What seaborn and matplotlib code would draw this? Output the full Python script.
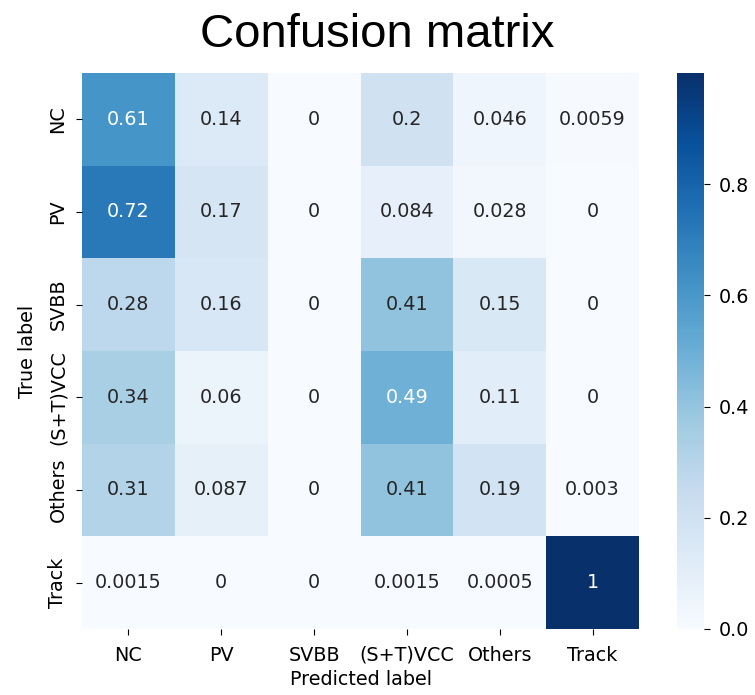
import numpy as np
import pandas as pd
import matplotlib
matplotlib.use("Agg")
import matplotlib.pyplot as plt
import seaborn as sns

# Class names (true rows, predicted columns)
classes = ["NC", "PV", "SVBB", "(S+T)VCC", "Others", "Track"]

# Normalised confusion matrix rows
row_nc = [0.61, 0.14, 0, 0.2, 0.046, 0.0059]
row_pv = [0.72, 0.17, 0, 0.084, 0.028, 0]
row_svbb = [0.28, 0.16, 0, 0.41, 0.15, 0]
row_vcc = [0.34, 0.06, 0, 0.49, 0.11, 0]
row_others = [0.31, 0.087, 0, 0.41, 0.19, 0.003]
row_track = [0.0015, 0, 0, 0.0015, 0.0005, 1]

cm = pd.DataFrame(
    [row_nc, row_pv, row_svbb, row_vcc, row_others, row_track],
    index=classes, columns=classes,
)

fig = plt.figure(figsize=(7.55, 6.95), dpi=100)
ax = fig.add_axes([0.1086, 0.0950, 0.7378, 0.8000])
cax = fig.add_axes([0.8967, 0.0950, 0.0358, 0.8000])

sns.heatmap(
    cm, ax=ax, cbar_ax=cax, cmap="Blues", annot=True,
    annot_kws={"fontsize": 13.8},
)

ax.set_xlabel("Predicted label", fontsize=13.8, labelpad=4)
ax.set_ylabel("True label", fontsize=13.8, labelpad=8)
ax.tick_params(axis="both", labelsize=13.8, length=4.5)
ax.tick_params(axis="x", pad=7.5)
ax.tick_params(axis="y", pad=6)
plt.setp(ax.get_xticklabels(), rotation=0)
plt.setp(ax.get_yticklabels(), rotation=90, va="center")

cax.tick_params(labelsize=13.8, length=4.5, pad=6)
cax.set_yticks([0.0, 0.2, 0.4, 0.6, 0.8])

fig.text(0.5, 0.933, "Confusion matrix", ha="center", va="baseline",
         fontsize=34, family="Liberation Sans")

fig.savefig("out.png", dpi=100)
